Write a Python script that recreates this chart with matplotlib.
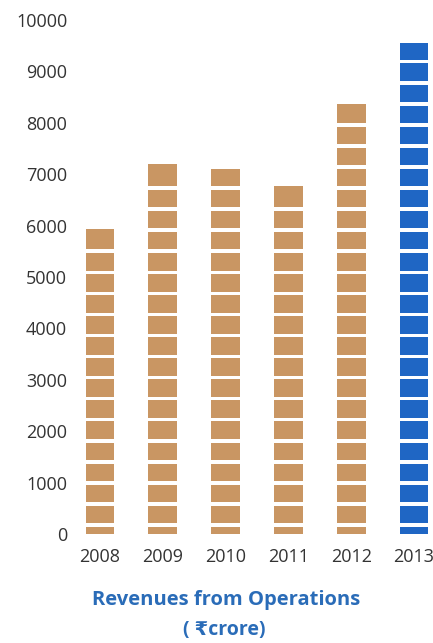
import numpy as np
import matplotlib.pyplot as plt

# revenue from operations, Rs crore
years = ["2008", "2009", "2010", "2011", "2012", "2013"]
revenue = [5940, 7200, 7100, 6770, 8370, 9550]
y_ticks = [0, 1000, 2000, 3000, 4000, 5000, 6000, 7000, 8000, 9000, 10000]

TAN = "#c99663"
BLUE = "#1f66c4"
TITLE_BLUE = "#2a6cb8"
TEXT = "#333333"

# white bands that split each bar into bricks
BAND_START = 175
BAND_STEP = 409.7
BAND_HALF = 34
TOP_MARGIN = 60  # no band right under the top of a bar

plt.rcParams["font.family"] = ["Open Sans", "DejaVu Sans"]

fig = plt.figure(figsize=(4.33, 6.43), dpi=100)
ax = fig.add_axes([0.1584, 0.1695, 0.8702, 0.7994])

x = np.arange(len(years))
colors = [TAN] * (len(years) - 1) + [BLUE]

for xi, val, col in zip(x, revenue, colors):
    centers = BAND_START + BAND_STEP * np.arange(int(val // BAND_STEP) + 2)
    centers = centers[centers + BAND_HALF + TOP_MARGIN < val]
    edges = [0.0]
    for c in centers:
        edges += [c - BAND_HALF, c + BAND_HALF]
    edges.append(val)
    bottoms = np.array(edges[0::2])
    tops = np.array(edges[1::2])
    ax.bar([xi] * len(bottoms), tops - bottoms, bottom=bottoms,
           width=0.46, color=col, linewidth=0)

ax.set_xlim(-0.5, 5.5)
ax.set_ylim(0, 10000)
ax.set_yticks(y_ticks)
ax.set_xticks(x)
ax.set_xticklabels(years)

for s in ax.spines.values():
    s.set_visible(False)
ax.tick_params(axis="y", length=0, pad=1, labelsize=13, labelcolor=TEXT)
ax.tick_params(axis="x", length=0, pad=10, labelsize=13, labelcolor=TEXT)

fig.text(0.522, 0.0669, "Revenues from Operations", ha="center", va="center",
         fontsize=14.5, fontweight="bold", color=TITLE_BLUE)
fig.text(0.517, 0.0202, "( \u20b9crore)", ha="center", va="center",
         fontsize=14, fontweight="bold", color=TITLE_BLUE)

fig.savefig("out.png", dpi=100, facecolor="white")
